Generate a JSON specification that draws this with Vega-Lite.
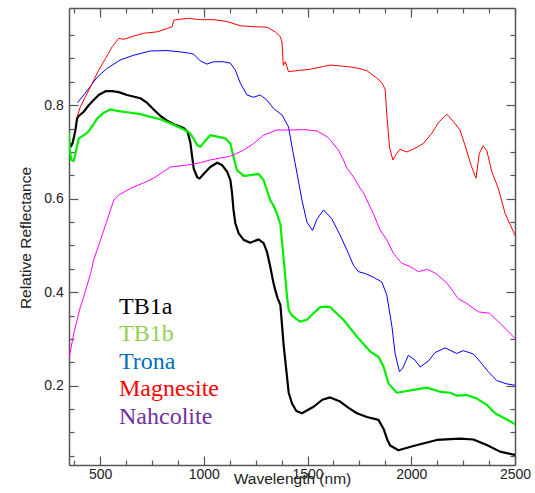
{
  "$schema": "https://vega.github.io/schema/vega-lite/v6.json",
  "width": 446,
  "height": 457,
  "autosize": {"type": "none"},
  "padding": {"left": 69, "top": 8, "right": 20, "bottom": 28},
  "background": "white",
  "config": {"view": {"stroke": null}},
  "datasets": {
    "spectra": [
      {"s":"TB1a","w":352,"r":0.720},{"s":"TB1a","w":360,"r":0.712},{"s":"TB1a","w":368,"r":0.720},{"s":"TB1a","w":381,"r":0.747},{"s":"TB1a","w":389,"r":0.772},{"s":"TB1a","w":397,"r":0.777},{"s":"TB1a","w":421,"r":0.786},{"s":"TB1a","w":445,"r":0.800},{"s":"TB1a","w":469,"r":0.811},{"s":"TB1a","w":493,"r":0.822},{"s":"TB1a","w":526,"r":0.830},{"s":"TB1a","w":558,"r":0.830},{"s":"TB1a","w":590,"r":0.828},{"s":"TB1a","w":630,"r":0.822},{"s":"TB1a","w":694,"r":0.815},{"s":"TB1a","w":727,"r":0.805},{"s":"TB1a","w":758,"r":0.791},{"s":"TB1a","w":791,"r":0.777},{"s":"TB1a","w":823,"r":0.767},{"s":"TB1a","w":863,"r":0.758},{"s":"TB1a","w":903,"r":0.751},{"s":"TB1a","w":922,"r":0.743},{"s":"TB1a","w":935,"r":0.720},{"s":"TB1a","w":943,"r":0.692},{"s":"TB1a","w":951,"r":0.665},{"s":"TB1a","w":967,"r":0.647},{"s":"TB1a","w":979,"r":0.643},{"s":"TB1a","w":999,"r":0.653},{"s":"TB1a","w":1031,"r":0.668},{"s":"TB1a","w":1064,"r":0.677},{"s":"TB1a","w":1088,"r":0.672},{"s":"TB1a","w":1112,"r":0.658},{"s":"TB1a","w":1128,"r":0.640},{"s":"TB1a","w":1136,"r":0.612},{"s":"TB1a","w":1143,"r":0.576},{"s":"TB1a","w":1152,"r":0.547},{"s":"TB1a","w":1168,"r":0.526},{"s":"TB1a","w":1192,"r":0.512},{"s":"TB1a","w":1224,"r":0.506},{"s":"TB1a","w":1264,"r":0.513},{"s":"TB1a","w":1288,"r":0.505},{"s":"TB1a","w":1304,"r":0.487},{"s":"TB1a","w":1320,"r":0.455},{"s":"TB1a","w":1336,"r":0.419},{"s":"TB1a","w":1344,"r":0.405},{"s":"TB1a","w":1355,"r":0.388},{"s":"TB1a","w":1369,"r":0.373},{"s":"TB1a","w":1385,"r":0.285},{"s":"TB1a","w":1401,"r":0.219},{"s":"TB1a","w":1409,"r":0.185},{"s":"TB1a","w":1425,"r":0.162},{"s":"TB1a","w":1446,"r":0.146},{"s":"TB1a","w":1473,"r":0.141},{"s":"TB1a","w":1529,"r":0.155},{"s":"TB1a","w":1571,"r":0.170},{"s":"TB1a","w":1609,"r":0.175},{"s":"TB1a","w":1657,"r":0.166},{"s":"TB1a","w":1696,"r":0.153},{"s":"TB1a","w":1738,"r":0.141},{"s":"TB1a","w":1786,"r":0.133},{"s":"TB1a","w":1842,"r":0.127},{"s":"TB1a","w":1866,"r":0.108},{"s":"TB1a","w":1884,"r":0.085},{"s":"TB1a","w":1898,"r":0.072},{"s":"TB1a","w":1938,"r":0.062},{"s":"TB1a","w":2010,"r":0.071},{"s":"TB1a","w":2123,"r":0.084},{"s":"TB1a","w":2235,"r":0.087},{"s":"TB1a","w":2299,"r":0.085},{"s":"TB1a","w":2364,"r":0.073},{"s":"TB1a","w":2428,"r":0.059},{"s":"TB1a","w":2500,"r":0.052},
      {"s":"TB1b","w":350,"r":0.740},{"s":"TB1b","w":354,"r":0.704},{"s":"TB1b","w":361,"r":0.683},{"s":"TB1b","w":373,"r":0.681},{"s":"TB1b","w":381,"r":0.697},{"s":"TB1b","w":397,"r":0.729},{"s":"TB1b","w":414,"r":0.734},{"s":"TB1b","w":438,"r":0.741},{"s":"TB1b","w":462,"r":0.755},{"s":"TB1b","w":486,"r":0.772},{"s":"TB1b","w":518,"r":0.784},{"s":"TB1b","w":550,"r":0.791},{"s":"TB1b","w":582,"r":0.788},{"s":"TB1b","w":630,"r":0.785},{"s":"TB1b","w":694,"r":0.781},{"s":"TB1b","w":742,"r":0.775},{"s":"TB1b","w":791,"r":0.770},{"s":"TB1b","w":855,"r":0.758},{"s":"TB1b","w":903,"r":0.748},{"s":"TB1b","w":927,"r":0.743},{"s":"TB1b","w":951,"r":0.729},{"s":"TB1b","w":967,"r":0.715},{"s":"TB1b","w":983,"r":0.711},{"s":"TB1b","w":1007,"r":0.724},{"s":"TB1b","w":1031,"r":0.736},{"s":"TB1b","w":1064,"r":0.733},{"s":"TB1b","w":1104,"r":0.729},{"s":"TB1b","w":1128,"r":0.718},{"s":"TB1b","w":1143,"r":0.690},{"s":"TB1b","w":1160,"r":0.661},{"s":"TB1b","w":1192,"r":0.649},{"s":"TB1b","w":1232,"r":0.651},{"s":"TB1b","w":1264,"r":0.653},{"s":"TB1b","w":1288,"r":0.640},{"s":"TB1b","w":1320,"r":0.597},{"s":"TB1b","w":1336,"r":0.585},{"s":"TB1b","w":1352,"r":0.569},{"s":"TB1b","w":1369,"r":0.545},{"s":"TB1b","w":1385,"r":0.470},{"s":"TB1b","w":1401,"r":0.390},{"s":"TB1b","w":1409,"r":0.362},{"s":"TB1b","w":1425,"r":0.350},{"s":"TB1b","w":1464,"r":0.337},{"s":"TB1b","w":1497,"r":0.341},{"s":"TB1b","w":1529,"r":0.355},{"s":"TB1b","w":1561,"r":0.368},{"s":"TB1b","w":1593,"r":0.369},{"s":"TB1b","w":1609,"r":0.368},{"s":"TB1b","w":1673,"r":0.341},{"s":"TB1b","w":1738,"r":0.305},{"s":"TB1b","w":1802,"r":0.273},{"s":"TB1b","w":1842,"r":0.262},{"s":"TB1b","w":1866,"r":0.241},{"s":"TB1b","w":1890,"r":0.205},{"s":"TB1b","w":1930,"r":0.185},{"s":"TB1b","w":2010,"r":0.191},{"s":"TB1b","w":2075,"r":0.196},{"s":"TB1b","w":2139,"r":0.187},{"s":"TB1b","w":2187,"r":0.185},{"s":"TB1b","w":2219,"r":0.179},{"s":"TB1b","w":2267,"r":0.180},{"s":"TB1b","w":2315,"r":0.173},{"s":"TB1b","w":2364,"r":0.159},{"s":"TB1b","w":2404,"r":0.141},{"s":"TB1b","w":2500,"r":0.118},
      {"s":"Trona","w":392,"r":0.806},{"s":"Trona","w":421,"r":0.822},{"s":"Trona","w":454,"r":0.841},{"s":"Trona","w":486,"r":0.860},{"s":"Trona","w":534,"r":0.879},{"s":"Trona","w":598,"r":0.897},{"s":"Trona","w":662,"r":0.907},{"s":"Trona","w":742,"r":0.916},{"s":"Trona","w":823,"r":0.917},{"s":"Trona","w":887,"r":0.914},{"s":"Trona","w":935,"r":0.911},{"s":"Trona","w":951,"r":0.909},{"s":"Trona","w":983,"r":0.895},{"s":"Trona","w":1015,"r":0.888},{"s":"Trona","w":1047,"r":0.893},{"s":"Trona","w":1095,"r":0.893},{"s":"Trona","w":1128,"r":0.890},{"s":"Trona","w":1152,"r":0.875},{"s":"Trona","w":1176,"r":0.847},{"s":"Trona","w":1208,"r":0.822},{"s":"Trona","w":1240,"r":0.817},{"s":"Trona","w":1272,"r":0.822},{"s":"Trona","w":1304,"r":0.811},{"s":"Trona","w":1336,"r":0.793},{"s":"Trona","w":1377,"r":0.779},{"s":"Trona","w":1408,"r":0.754},{"s":"Trona","w":1425,"r":0.711},{"s":"Trona","w":1449,"r":0.655},{"s":"Trona","w":1473,"r":0.597},{"s":"Trona","w":1497,"r":0.550},{"s":"Trona","w":1524,"r":0.532},{"s":"Trona","w":1545,"r":0.556},{"s":"Trona","w":1577,"r":0.576},{"s":"Trona","w":1617,"r":0.557},{"s":"Trona","w":1657,"r":0.522},{"s":"Trona","w":1690,"r":0.490},{"s":"Trona","w":1721,"r":0.458},{"s":"Trona","w":1745,"r":0.444},{"s":"Trona","w":1778,"r":0.440},{"s":"Trona","w":1818,"r":0.432},{"s":"Trona","w":1858,"r":0.422},{"s":"Trona","w":1882,"r":0.394},{"s":"Trona","w":1907,"r":0.326},{"s":"Trona","w":1922,"r":0.269},{"s":"Trona","w":1943,"r":0.230},{"s":"Trona","w":1959,"r":0.238},{"s":"Trona","w":1986,"r":0.265},{"s":"Trona","w":2018,"r":0.255},{"s":"Trona","w":2043,"r":0.240},{"s":"Trona","w":2083,"r":0.253},{"s":"Trona","w":2115,"r":0.271},{"s":"Trona","w":2163,"r":0.281},{"s":"Trona","w":2219,"r":0.269},{"s":"Trona","w":2251,"r":0.275},{"s":"Trona","w":2299,"r":0.268},{"s":"Trona","w":2331,"r":0.252},{"s":"Trona","w":2371,"r":0.230},{"s":"Trona","w":2412,"r":0.211},{"s":"Trona","w":2460,"r":0.204},{"s":"Trona","w":2500,"r":0.201},
      {"s":"Magnesite","w":389,"r":0.775},{"s":"Magnesite","w":405,"r":0.797},{"s":"Magnesite","w":429,"r":0.818},{"s":"Magnesite","w":462,"r":0.847},{"s":"Magnesite","w":493,"r":0.875},{"s":"Magnesite","w":526,"r":0.900},{"s":"Magnesite","w":558,"r":0.925},{"s":"Magnesite","w":590,"r":0.943},{"s":"Magnesite","w":614,"r":0.941},{"s":"Magnesite","w":662,"r":0.948},{"s":"Magnesite","w":710,"r":0.954},{"s":"Magnesite","w":775,"r":0.957},{"s":"Magnesite","w":823,"r":0.964},{"s":"Magnesite","w":847,"r":0.968},{"s":"Magnesite","w":855,"r":0.982},{"s":"Magnesite","w":887,"r":0.984},{"s":"Magnesite","w":927,"r":0.986},{"s":"Magnesite","w":983,"r":0.983},{"s":"Magnesite","w":1047,"r":0.983},{"s":"Magnesite","w":1112,"r":0.979},{"s":"Magnesite","w":1176,"r":0.970},{"s":"Magnesite","w":1240,"r":0.968},{"s":"Magnesite","w":1304,"r":0.967},{"s":"Magnesite","w":1344,"r":0.957},{"s":"Magnesite","w":1368,"r":0.947},{"s":"Magnesite","w":1377,"r":0.935},{"s":"Magnesite","w":1383,"r":0.885},{"s":"Magnesite","w":1393,"r":0.893},{"s":"Magnesite","w":1408,"r":0.872},{"s":"Magnesite","w":1449,"r":0.874},{"s":"Magnesite","w":1513,"r":0.877},{"s":"Magnesite","w":1577,"r":0.883},{"s":"Magnesite","w":1609,"r":0.886},{"s":"Magnesite","w":1657,"r":0.884},{"s":"Magnesite","w":1705,"r":0.882},{"s":"Magnesite","w":1745,"r":0.879},{"s":"Magnesite","w":1786,"r":0.874},{"s":"Magnesite","w":1834,"r":0.858},{"s":"Magnesite","w":1858,"r":0.848},{"s":"Magnesite","w":1874,"r":0.834},{"s":"Magnesite","w":1882,"r":0.780},{"s":"Magnesite","w":1895,"r":0.711},{"s":"Magnesite","w":1911,"r":0.683},{"s":"Magnesite","w":1930,"r":0.697},{"s":"Magnesite","w":1946,"r":0.706},{"s":"Magnesite","w":1978,"r":0.700},{"s":"Magnesite","w":2010,"r":0.706},{"s":"Magnesite","w":2058,"r":0.718},{"s":"Magnesite","w":2099,"r":0.740},{"s":"Magnesite","w":2131,"r":0.763},{"s":"Magnesite","w":2171,"r":0.781},{"s":"Magnesite","w":2203,"r":0.765},{"s":"Magnesite","w":2235,"r":0.747},{"s":"Magnesite","w":2259,"r":0.714},{"s":"Magnesite","w":2291,"r":0.668},{"s":"Magnesite","w":2312,"r":0.644},{"s":"Magnesite","w":2328,"r":0.697},{"s":"Magnesite","w":2346,"r":0.713},{"s":"Magnesite","w":2364,"r":0.703},{"s":"Magnesite","w":2388,"r":0.658},{"s":"Magnesite","w":2419,"r":0.623},{"s":"Magnesite","w":2452,"r":0.569},{"s":"Magnesite","w":2500,"r":0.522},
      {"s":"Nahcolite","w":352,"r":0.262},{"s":"Nahcolite","w":373,"r":0.312},{"s":"Nahcolite","w":405,"r":0.369},{"s":"Nahcolite","w":421,"r":0.390},{"s":"Nahcolite","w":454,"r":0.440},{"s":"Nahcolite","w":469,"r":0.469},{"s":"Nahcolite","w":502,"r":0.512},{"s":"Nahcolite","w":518,"r":0.533},{"s":"Nahcolite","w":550,"r":0.576},{"s":"Nahcolite","w":566,"r":0.597},{"s":"Nahcolite","w":590,"r":0.608},{"s":"Nahcolite","w":646,"r":0.622},{"s":"Nahcolite","w":710,"r":0.634},{"s":"Nahcolite","w":758,"r":0.644},{"s":"Nahcolite","w":806,"r":0.658},{"s":"Nahcolite","w":839,"r":0.668},{"s":"Nahcolite","w":919,"r":0.672},{"s":"Nahcolite","w":983,"r":0.677},{"s":"Nahcolite","w":1031,"r":0.683},{"s":"Nahcolite","w":1128,"r":0.691},{"s":"Nahcolite","w":1192,"r":0.704},{"s":"Nahcolite","w":1240,"r":0.718},{"s":"Nahcolite","w":1288,"r":0.736},{"s":"Nahcolite","w":1352,"r":0.747},{"s":"Nahcolite","w":1417,"r":0.747},{"s":"Nahcolite","w":1481,"r":0.748},{"s":"Nahcolite","w":1545,"r":0.745},{"s":"Nahcolite","w":1593,"r":0.733},{"s":"Nahcolite","w":1609,"r":0.726},{"s":"Nahcolite","w":1649,"r":0.704},{"s":"Nahcolite","w":1673,"r":0.683},{"s":"Nahcolite","w":1690,"r":0.665},{"s":"Nahcolite","w":1721,"r":0.647},{"s":"Nahcolite","w":1754,"r":0.622},{"s":"Nahcolite","w":1770,"r":0.612},{"s":"Nahcolite","w":1818,"r":0.567},{"s":"Nahcolite","w":1850,"r":0.533},{"s":"Nahcolite","w":1882,"r":0.512},{"s":"Nahcolite","w":1914,"r":0.483},{"s":"Nahcolite","w":1954,"r":0.462},{"s":"Nahcolite","w":1994,"r":0.455},{"s":"Nahcolite","w":2034,"r":0.444},{"s":"Nahcolite","w":2078,"r":0.449},{"s":"Nahcolite","w":2119,"r":0.440},{"s":"Nahcolite","w":2171,"r":0.420},{"s":"Nahcolite","w":2227,"r":0.386},{"s":"Nahcolite","w":2267,"r":0.376},{"s":"Nahcolite","w":2323,"r":0.358},{"s":"Nahcolite","w":2377,"r":0.355},{"s":"Nahcolite","w":2436,"r":0.330},{"s":"Nahcolite","w":2500,"r":0.301}
    ]
  },
  "data": {"name": "spectra"},
  "layer": [
    {
      "mark": {"type": "point", "opacity": 0, "size": 0},
      "encoding": {
        "x": {"field": "w", "type": "quantitative", "scale": {"domain": [350, 2500], "nice": false, "zero": false},
          "axis": {"orient": "top", "labels": false, "title": null, "grid": false,
            "values": [375,500,625,750,875,1000,1125,1250,1375,1500,1625,1750,1875,2000,2125,2250,2375,2500],
            "tickSize": {"condition": {"test": "datum.value % 500 === 0", "value": -9}, "value": -5},
            "domainColor": "#555555", "domainWidth": 1.5, "tickColor": "#555555", "tickWidth": 1.2}},
        "y": {"field": "r", "type": "quantitative", "scale": {"domain": [0.0304, 1.008], "nice": false, "zero": false},
          "axis": {"orient": "right", "labels": false, "title": null, "grid": false,
            "values": [0.05,0.1,0.15,0.2,0.25,0.3,0.35,0.4,0.45,0.5,0.55,0.6,0.65,0.7,0.75,0.8,0.85,0.9,0.95],
            "tickSize": {"condition": {"test": "abs(round(datum.value*20)) % 4 === 0", "value": -9}, "value": -5},
            "domainColor": "#555555", "domainWidth": 1.5, "tickColor": "#555555", "tickWidth": 1.2}}
      }
    },
    {
      "mark": {"type": "line", "clip": true, "strokeJoin": "round", "strokeCap": "round"},
      "encoding": {
        "x": {"field": "w", "type": "quantitative",
          "axis": {"orient": "bottom", "title": "Wavelength (nm)", "grid": false, "format": "d",
            "values": [375,500,625,750,875,1000,1125,1250,1375,1500,1625,1750,1875,2000,2125,2250,2375,2500],
            "labelExpr": "datum.value % 500 === 0 ? datum.label : ''",
            "labelOverlap": false, "labelFlush": false, "labelPadding": 11,
            "tickSize": {"condition": {"test": "datum.value % 500 === 0", "value": -9}, "value": -5},
            "domainColor": "#555555", "domainWidth": 1.5, "tickColor": "#555555", "tickWidth": 1.2,
            "labelFont": "Liberation Sans", "labelFontSize": 14, "labelColor": "#222222",
            "titleFont": "Liberation Sans", "titleFontSize": 15.5, "titleFontWeight": "normal", "titleColor": "#222222",
            "titleY": 6, "titleBaseline": "top"}},
        "y": {"field": "r", "type": "quantitative",
          "axis": {"orient": "left", "title": "Relative Reflectance", "grid": false, "format": ".1f",
            "values": [0.05,0.1,0.15,0.2,0.25,0.3,0.35,0.4,0.45,0.5,0.55,0.6,0.65,0.7,0.75,0.8,0.85,0.9,0.95],
            "labelExpr": "abs(round(datum.value*20)) % 4 === 0 ? datum.label : ''",
            "labelOverlap": false, "labelFlush": false, "labelPadding": 14.7,
            "tickSize": {"condition": {"test": "abs(round(datum.value*20)) % 4 === 0", "value": -9}, "value": -5},
            "domainColor": "#555555", "domainWidth": 1.5, "tickColor": "#555555", "tickWidth": 1.2,
            "labelFont": "Liberation Sans", "labelFontSize": 14, "labelColor": "#222222",
            "titleFont": "Liberation Sans", "titleFontSize": 15.5, "titleFontWeight": "normal", "titleColor": "#222222",
            "titleX": -39, "titleY": 229.5, "titleAngle": -90, "titleBaseline": "alphabetic", "titleAlign": "center"}},
        "color": {"field": "s", "type": "nominal",
          "scale": {"domain": ["TB1a", "TB1b", "Trona", "Magnesite", "Nahcolite"], "range": ["#000000", "#00ee00", "#0000ff", "#ff0000", "#ff00ff"]},
          "legend": {"orient": "none", "legendX": 26, "legendY": 287, "title": null, "direction": "vertical",
            "symbolSize": 0, "symbolOpacity": 0, "symbolStrokeWidth": 0, "labelOffset": 0, "padding": 0, "offset": 0,
            "labelFont": "Liberation Serif", "labelFontSize": 24, "rowPadding": 3.4, "labelLimit": 300,
            "encode": {"labels": {"update": {"fill": {"signal": "datum.value === 'TB1a' ? '#000000' : datum.value === 'TB1b' ? '#92d050' : datum.value === 'Trona' ? '#0070c0' : datum.value === 'Magnesite' ? '#ff0000' : '#7030a0'"}}}}}},
        "strokeWidth": {"field": "s", "type": "nominal",
          "scale": {"type": "ordinal", "domain": ["TB1a", "TB1b", "Trona", "Magnesite", "Nahcolite"], "range": [2.2, 2.2, 1, 1, 1]},
          "legend": null}
      }
    }
  ],
  "resolve": {"axis": {"x": "independent", "y": "independent"}}
}
